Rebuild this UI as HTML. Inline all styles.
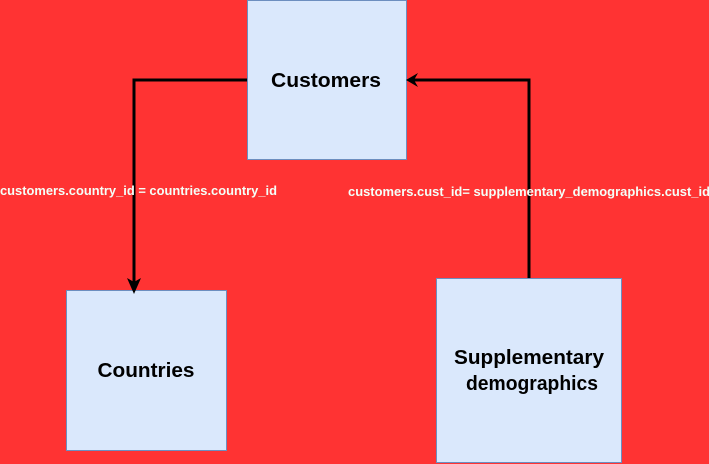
<!DOCTYPE html>
<html><head><style>body{margin:0;background:#ff3333;}svg{display:block}</style></head>
<body>
<svg width="709" height="464" viewBox="0 0 709 464" xmlns="http://www.w3.org/2000/svg">
<rect width="709" height="464" fill="#ff3333"/>
<rect x="247.5" y="0.5" width="159" height="159" fill="#dae8fc" stroke="#6c8ebf"/>
<rect x="66.5" y="290.5" width="160" height="160" fill="#dae8fc" stroke="#6c8ebf"/>
<rect x="436.5" y="278.5" width="185" height="184" fill="#dae8fc" stroke="#6c8ebf"/>
<g font-family="Liberation Sans, sans-serif" font-weight="bold" font-size="20.5" fill="#000" text-anchor="middle">
<text x="326" y="87" textLength="110" lengthAdjust="spacingAndGlyphs">Customers</text>
<text x="146" y="377" textLength="97" lengthAdjust="spacingAndGlyphs">Countries</text>
<text x="529" y="364" textLength="150" lengthAdjust="spacingAndGlyphs">Supplementary</text>
<text x="532" y="390" textLength="132" lengthAdjust="spacingAndGlyphs">demographics</text>
</g>
<path d="M247 80 H134 V282" fill="none" stroke="#000" stroke-width="3"/>
<path d="M127 278 L134 294 L141 278 L134 282 Z" fill="#000"/>
<path d="M529 278 V80 H414" fill="none" stroke="#000" stroke-width="3"/>
<path d="M418 73 L406 80 L418 87 L414 80 Z" fill="#000"/>
<g font-family="Liberation Sans, sans-serif" font-weight="bold" font-size="12.5" fill="#f4fff8">
<text x="0" y="195" textLength="277" lengthAdjust="spacingAndGlyphs">customers.country_id = countries.country_id</text>
<text x="348" y="196" textLength="362" lengthAdjust="spacingAndGlyphs">customers.cust_id= supplementary_demographics.cust_id</text>
</g>
</svg>
</body></html>
